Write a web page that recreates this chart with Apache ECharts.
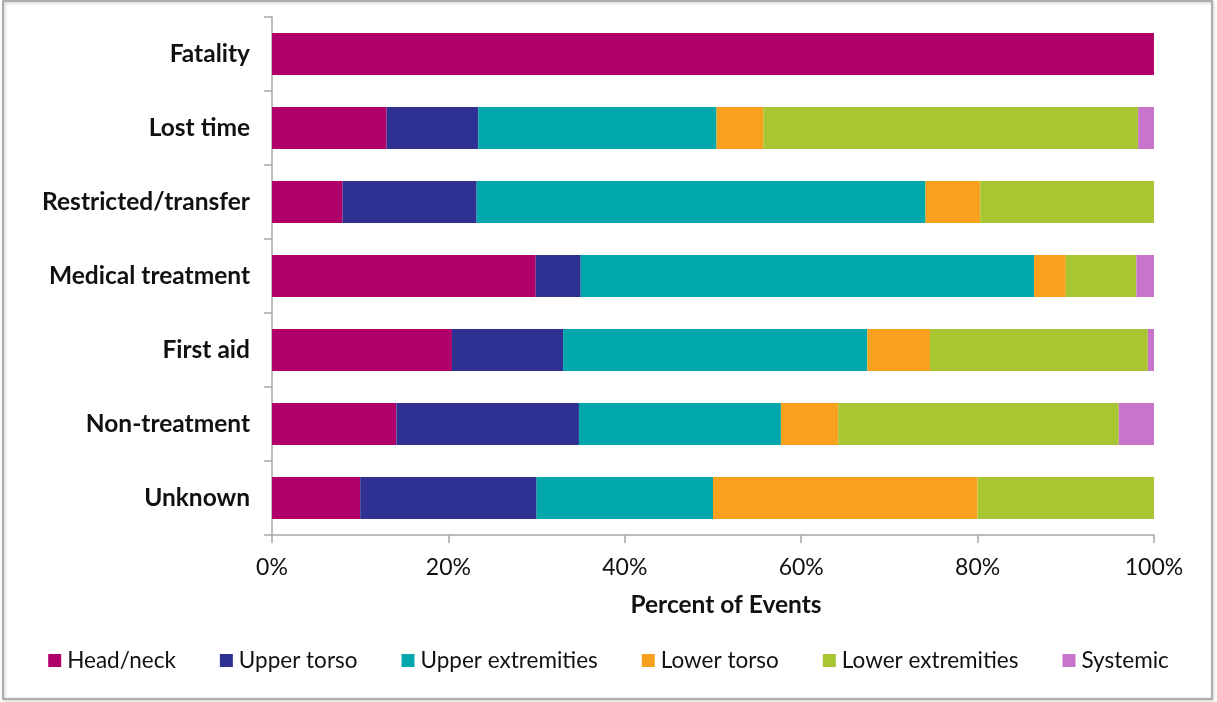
<!DOCTYPE html>
<html>
<head>
<meta charset="utf-8">
<script src="https://cdn.jsdelivr.net/npm/echarts@6/dist/echarts.min.js"></script>
<style>
html,body{margin:0;padding:0;background:#fff;}
#chart{width:1217px;height:702px;}
</style>
</head>
<body>
<div id="chart"></div>
<script>
var categories = ['Fatality','Lost time','Restricted/transfer','Medical treatment','First aid','Non-treatment','Unknown'];
var seriesNames = ['Head/neck','Upper torso','Upper extremities','Lower torso','Lower extremities','Systemic'];
var headNeck         = [100, 13.0,  8.0, 29.9, 20.4, 14.1, 10];
var upperTorso       = [0,   10.4, 15.2,  5.1, 12.6, 20.7, 20];
var upperExtremities = [0,   27.0, 50.9, 51.4, 34.5, 22.9, 20];
var lowerTorso       = [0,    5.3,  6.2,  3.6,  7.1,  6.5, 30];
var lowerExtremities = [0,   42.5, 19.7,  8.0, 24.7, 31.8, 20];
var systemic         = [0,    1.8,  0,    2.0,  0.7,  4.0,  0];
var xTicks = [0, 20, 40, 60, 80, 100];
var colors = ['#B0006A','#2E3192','#00A8AC','#F7A11E','#A7C631','#C774CB'];

var allData = [headNeck, upperTorso, upperExtremities, lowerTorso, lowerExtremities, systemic];
var font = 'Lato, "Open Sans", sans-serif';

var chart = echarts.init(document.getElementById('chart'));
chart.setOption({
  animation: false,
  color: colors,
  graphic: [{
    type: 'rect',
    shape: {x: 3, y: 1, width: 1209, height: 698},
    style: {fill: 'none', stroke: '#9a9a9a', lineWidth: 1.5, shadowBlur: 3, shadowColor: 'rgba(0,0,0,0.3)', shadowOffsetX: 1, shadowOffsetY: 1},
    silent: true
  }],
  grid: {left: 272, right: 63, top: 17, bottom: 167, containLabel: false},
  legend: {
    data: seriesNames,
    bottom: 25,
    left: 'center',
    itemWidth: 13,
    itemHeight: 13,
    itemGap: 44,
    icon: 'rect',
    textStyle: {fontFamily: font, fontSize: 22.5, color: '#111', padding: [0,0,0,1]}
  },
  xAxis: {
    type: 'value',
    min: 0, max: 100, interval: 20,
    name: 'Percent of Events',
    nameLocation: 'middle',
    nameGap: 58,
    nameTextStyle: {fontFamily: font, fontSize: 24.5, fontWeight: 'bold', color: '#111', padding: [0,0,0,26]},
    axisLine: {show: true, lineStyle: {color: '#a6a6a6', width: 1.5}},
    axisTick: {show: true, length: 8, lineStyle: {color: '#a6a6a6', width: 1.5}},
    splitLine: {show: false},
    axisLabel: {fontFamily: font, fontSize: 23, color: '#111', margin: 21, formatter: function(v){ return xTicks.indexOf(v) >= 0 ? v + '%' : ''; }}
  },
  yAxis: {
    type: 'category',
    data: categories,
    inverse: true,
    axisLine: {show: true, lineStyle: {color: '#a6a6a6', width: 1.5}},
    axisTick: {show: true, length: 8, lineStyle: {color: '#a6a6a6', width: 1.5}},
    axisLabel: {fontFamily: font, fontSize: 24.5, fontWeight: 'bold', color: '#111', margin: 22}
  },
  series: seriesNames.map(function(name, i){
    return {
      name: name,
      type: 'bar',
      stack: 'total',
      barWidth: 42,
      data: allData[i],
      itemStyle: {color: colors[i]}
    };
  })
});
</script>
</body>
</html>
